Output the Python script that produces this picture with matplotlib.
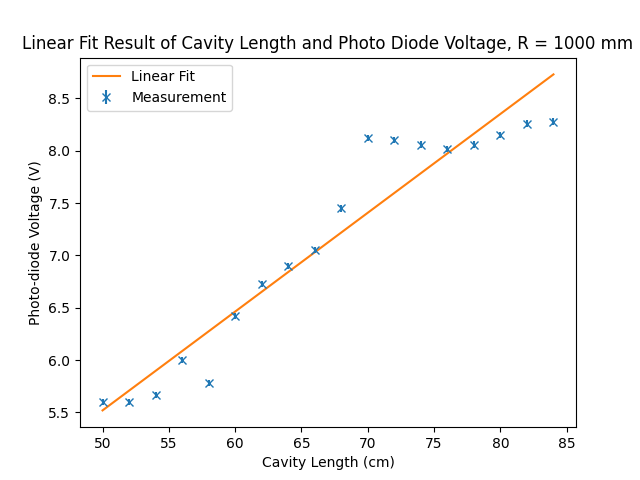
import matplotlib
matplotlib.use("Agg")
import matplotlib.pyplot as plt
import numpy as np

length = [50, 52, 54, 56, 58, 60, 62, 64, 66, 68, 70, 72, 74, 76, 78, 80, 82, 84]
voltage = [5.60, 5.60, 5.67, 6.00, 5.78, 6.42, 6.73, 6.90, 7.05, 7.45,
           8.12, 8.10, 8.06, 8.02, 8.06, 8.15, 8.26, 8.28]
verr = [0.03] * len(length)
fit_x = [50, 84]
fit_y = [5.52, 8.73]

fig, ax = plt.subplots(figsize=(6.4, 4.8), dpi=100)
ax.plot(fit_x, fit_y, color="C1", label="Linear Fit")
ax.errorbar(length, voltage, yerr=verr, fmt="x", color="C0", label="Measurement")
ax.set_xlabel("Cavity Length (cm)")
ax.set_ylabel("Photo-diode Voltage (V)")
ax.set_title("Linear Fit Result of Cavity Length and Photo Diode Voltage, R = 1000 mm")
ax.legend(loc="upper left")
fig.savefig("out.png")
